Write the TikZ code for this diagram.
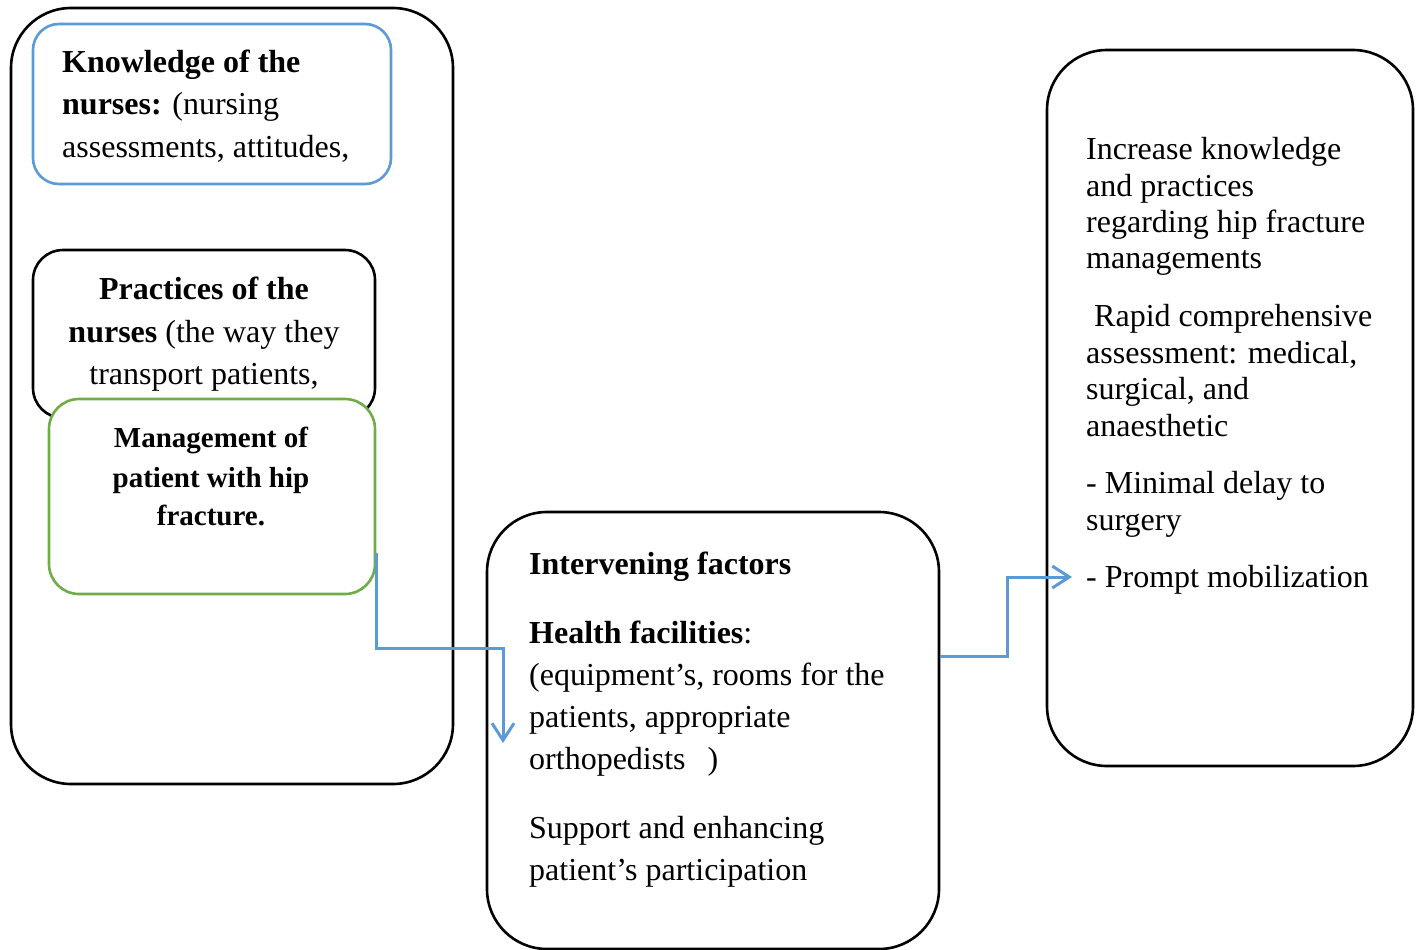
\documentclass[tikz,border=0pt]{standalone}
\usepackage{fontspec}
\setmainfont{Liberation Serif}
\usetikzlibrary{arrows.meta,calc}
\definecolor{boxblue}{HTML}{5B9BD5}
\definecolor{boxgreen}{HTML}{70AD47}
\begin{document}
\begin{tikzpicture}[x=1pt,y=-1pt,
  frame/.style={draw=black, line width=2.6pt, rectangle, inner sep=0pt, fill=white},
  txt/.style={inner sep=0pt, font=\fontsize{32}{38}\selectfont},
  mtxt/.style={inner sep=0pt, font=\fontsize{29}{35}\selectfont\bfseries},
  conn/.style={draw=boxblue, line width=3pt, -{Straight Barb[length=17pt,width=22pt,line width=3pt]}}]
\useasboundingbox (0,0) rectangle (1416,950);

% boxes
\node[frame, rounded corners=60pt, minimum width=442pt, minimum height=776pt] (left) at (232,396) {};
\node[frame, draw=boxblue, rounded corners=26pt, minimum width=358pt, minimum height=160pt] (know) at (212,104) {};
\node[frame, rounded corners=30pt, minimum width=342pt, minimum height=168pt] (pract) at (204,334) {};
\node[frame, draw=boxgreen, rounded corners=30pt, minimum width=326pt, minimum height=195pt] (mgmt) at (212,496.5) {};
\node[frame, rounded corners=60pt, minimum width=452pt, minimum height=437pt] (inter) at (713,730.5) {};
\node[frame, rounded corners=60pt, minimum width=366pt, minimum height=716pt] (right) at (1230,408) {};

% knowledge text
\node[txt, anchor=base west] (k1) at (62,73) {\textbf{Knowledge of the}};
\node[txt, anchor=base west] (k2) at (62,114) {\textbf{nurses:} (nursing};
\node[txt, anchor=base west] (k3) at (62,157) {assessments, attitudes,};

% practices text
\node[txt, anchor=base] (p1) at (204,299) {\textbf{Practices of the}};
\node[txt, anchor=base] (p2) at (204,342) {\textbf{nurses} (the way they};
\node[txt, anchor=base] (p3) at (204,384) {transport patients,};

% management text
\node[mtxt, anchor=base] (m1) at (211,447) {Management of};
\node[mtxt, anchor=base] (m2) at (211,487) {patient with hip};
\node[mtxt, anchor=base] (m3) at (211,525) {fracture.};

% intervening text
\node[txt, anchor=base west] (i1) at (529,574) {\textbf{Intervening factors}};
\node[txt, anchor=base west] (i2) at (529,643) {\textbf{Health facilities}:};
\node[txt, anchor=base west] (i3) at (529,685) {(equipment’s, rooms for the};
\node[txt, anchor=base west] (i4) at (529,727) {patients, appropriate};
\node[txt, anchor=base west] (i5) at (529,769) {orthopedists\hspace{22pt})};
\node[txt, anchor=base west] (i6) at (529,838) {Support and enhancing};
\node[txt, anchor=base west] (i7) at (529,880) {patient’s participation};

% right text
\node[txt, anchor=base west] (r1) at (1086,159) {Increase knowledge};
\node[txt, anchor=base west] (r2) at (1086,196) {and practices};
\node[txt, anchor=base west] (r3) at (1086,232) {regarding hip fracture};
\node[txt, anchor=base west] (r4) at (1086,268) {managements};
\node[txt, anchor=base west] (r5) at (1094,326) {Rapid comprehensive};
\node[txt, anchor=base west] (r6) at (1086,363) {assessment: medical,};
\node[txt, anchor=base west] (r7) at (1086,399) {surgical, and};
\node[txt, anchor=base west] (r8) at (1086,436) {anaesthetic};
\node[txt, anchor=base west] (r9) at (1086,493) {- Minimal delay to};
\node[txt, anchor=base west] (r10) at (1086,530) {surgery};
\node[txt, anchor=base west] (r11) at (1086,587) {- Prompt mobilization};

% connectors
\coordinate (a1) at (503,743);
\coordinate (a2) at (1072,577);
\draw[conn] ($(mgmt.east)+(0,56.5)$) -- ++(0,95) -| (a1);
\draw[conn] ($(inter.east)+(0,-74.5)$) -- ++(67,0) |- (a2);
\end{tikzpicture}
\end{document}
